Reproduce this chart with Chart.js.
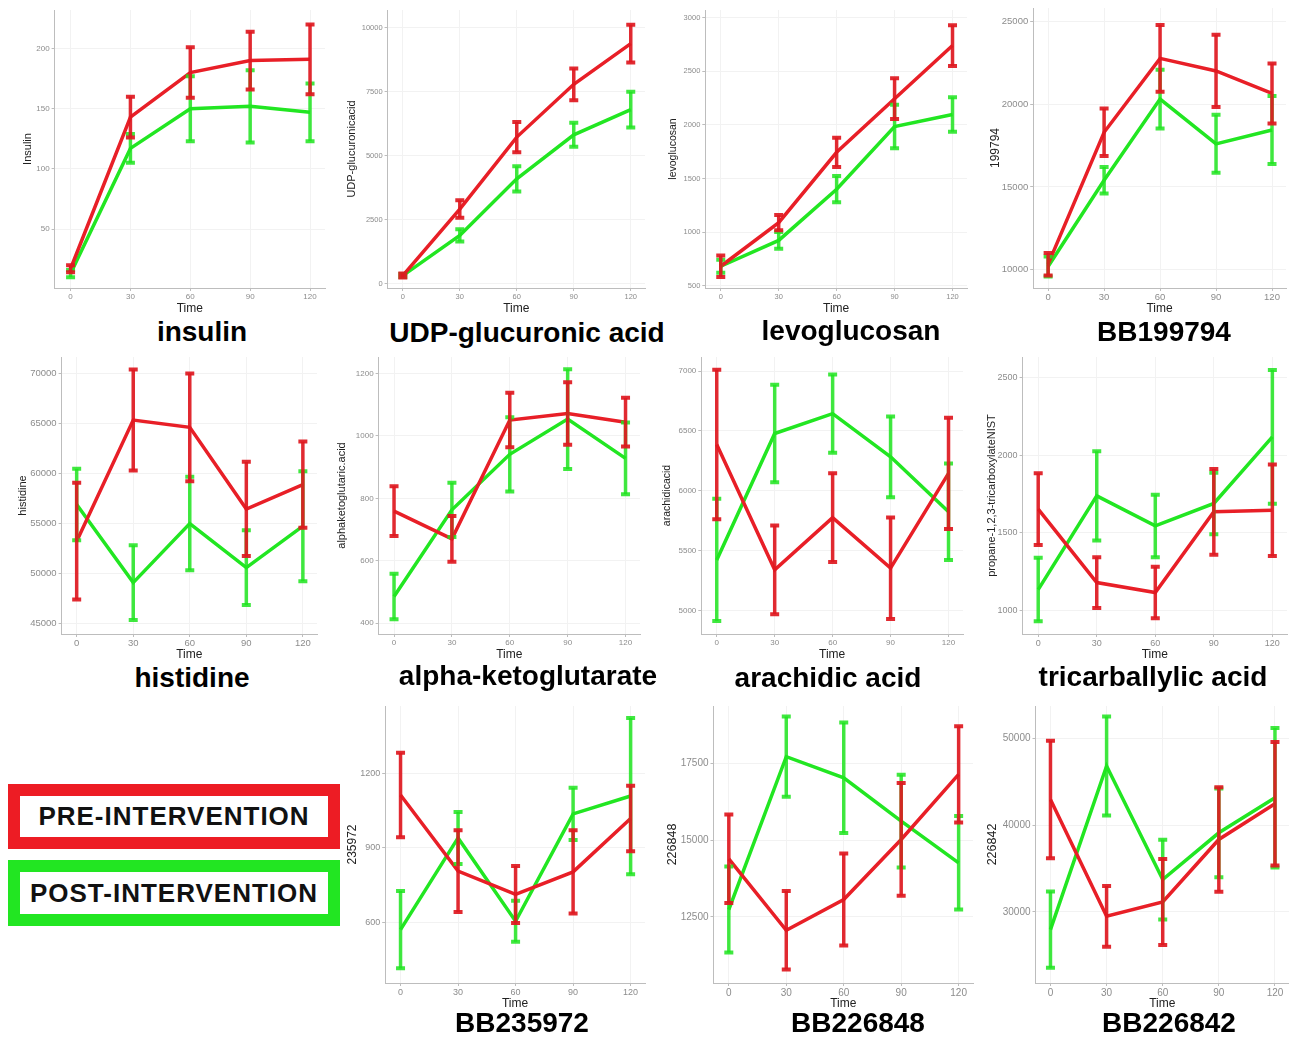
<!DOCTYPE html>
<html>
<head>
<meta charset="utf-8">
<script src="https://cdn.jsdelivr.net/npm/chart.js@4.4.1/dist/chart.umd.min.js"></script>
<style>
    html, body { margin: 0; padding: 0; background: #fff; overflow: hidden; }
    body { width: 1289px; height: 1037px; position: relative; font-family: "Liberation Sans", Arial, sans-serif; }
    .panel { position: absolute; }
    .name { position: absolute; font-weight: bold; font-size: 28px; line-height: 1; color: #000; transform: translateX(-50%); white-space: nowrap; }
    .legend-box { position: absolute; box-sizing: border-box; background: #fff; border: 12px solid; display: flex; align-items: center; justify-content: center; font-weight: bold; font-size: 26px; letter-spacing: 1px; color: #111; }
</style>
</head>
<body>
<div class="legend-box" style="left:8px;top:784px;width:332px;height:65px;border-color:#ed1c24;">PRE-INTERVENTION</div>
<div class="legend-box" style="left:8px;top:860px;width:332px;height:66px;border-color:#22e622;">POST-INTERVENTION</div>
<script>
const times = [0, 30, 60, 90, 120];

const insulinPre = [17, 143, 180, 190, 191];
const insulinPreErr = [3, 17, 21, 24, 29];
const insulinPost = [13, 117, 150, 152, 147];
const insulinPostErr = [3, 12, 27, 30, 24];
const insulinTicks = [50, 100, 150, 200];

const udpPre = [325, 2920, 5730, 7790, 9380];
const udpPreErr = [80, 340, 590, 620, 735];
const udpPost = [325, 1890, 4100, 5820, 6800];
const udpPostErr = [60, 240, 490, 470, 700];
const udpTicks = [0, 2500, 5000, 7500, 10000];

const levoPre = [681, 1088, 1744, 2244, 2740];
const levoPreErr = [100, 70, 137, 190, 190];
const levoPost = [681, 922, 1400, 1984, 2097];
const levoPostErr = [60, 78, 122, 203, 160];
const levoTicks = [500, 1000, 1500, 2000, 2500, 3000];

const bb199794Pre = [10340, 18300, 22760, 22000, 20640];
const bb199794PreErr = [680, 1430, 2020, 2180, 1810];
const bb199794Post = [10200, 15400, 20300, 17600, 18440];
const bb199794PostErr = [600, 800, 1770, 1750, 2050];
const bb199794Ticks = [10000, 15000, 20000, 25000];

const histidinePre = [53230, 65350, 64620, 56450, 58880];
const histidinePreErr = [5840, 5050, 5400, 4715, 4315];
const histidinePost = [56890, 49080, 54990, 50580, 54730];
const histidinePostErr = [3580, 3730, 4680, 3750, 5500];
const histidineTicks = [45000, 50000, 55000, 60000, 65000, 70000];

const akgPre = [759, 670, 1051, 1072, 1044];
const akgPreErr = [80, 73, 87, 100, 78];
const akgPost = [485, 763, 941, 1054, 928];
const akgPostErr = [73, 87, 119, 160, 115];
const akgTicks = [400, 600, 800, 1000, 1200];

const arachidicPre = [6386, 5339, 5775, 5353, 6145];
const arachidicPreErr = [625, 370, 370, 424, 465];
const arachidicPost = [5422, 6478, 6644, 6283, 5825];
const arachidicPostErr = [510, 407, 326, 337, 403];
const arachidicTicks = [5000, 5500, 6000, 6500, 7000];

const tricarbPre = [1652, 1178, 1114, 1635, 1645];
const tricarbPreErr = [232, 164, 167, 277, 296];
const tricarbPost = [1133, 1738, 1544, 1689, 2119];
const tricarbPostErr = [205, 288, 202, 198, 432];
const tricarbTicks = [1000, 1500, 2000, 2500];

const bb235972Pre = [1113, 806, 712, 803, 1018];
const bb235972PreErr = [170, 165, 115, 168, 132];
const bb235972Post = [570, 940, 604, 1037, 1109];
const bb235972PostErr = [156, 105, 83, 105, 315];
const bb235972Ticks = [600, 900, 1200];

const bb226848Pre = [14396, 12064, 13067, 15027, 17151];
const bb226848PreErr = [1444, 1280, 1500, 1840, 1570];
const bb226848Post = [12740, 17729, 17042, 15626, 14265];
const bb226848PostErr = [1405, 1310, 1800, 1515, 1525];
const bb226848Ticks = [12500, 15000, 17500];

const bb226842Pre = [42960, 29500, 31150, 38350, 42460];
const bb226842PreErr = [6770, 3500, 4960, 6020, 7115];
const bb226842Post = [27960, 46810, 33730, 39120, 43150];
const bb226842PostErr = [4400, 5710, 4600, 5115, 8040];
const bb226842Ticks = [30000, 40000, 50000];

const panels = [
    { name: 'insulin', yTitle: 'Insulin', pre: insulinPre, preErr: insulinPreErr, post: insulinPost, postErr: insulinPostErr, ticks: insulinTicks },
    { name: 'UDP-glucuronic acid', yTitle: 'UDP-glucuronicacid', pre: udpPre, preErr: udpPreErr, post: udpPost, postErr: udpPostErr, ticks: udpTicks },
    { name: 'levoglucosan', yTitle: 'levoglucosan', pre: levoPre, preErr: levoPreErr, post: levoPost, postErr: levoPostErr, ticks: levoTicks },
    { name: 'BB199794', yTitle: '199794', pre: bb199794Pre, preErr: bb199794PreErr, post: bb199794Post, postErr: bb199794PostErr, ticks: bb199794Ticks },
    { name: 'histidine', yTitle: 'histidine', pre: histidinePre, preErr: histidinePreErr, post: histidinePost, postErr: histidinePostErr, ticks: histidineTicks },
    { name: 'alpha-ketoglutarate', yTitle: 'alphaketoglutaric.acid', pre: akgPre, preErr: akgPreErr, post: akgPost, postErr: akgPostErr, ticks: akgTicks },
    { name: 'arachidic acid', yTitle: 'arachidicacid', pre: arachidicPre, preErr: arachidicPreErr, post: arachidicPost, postErr: arachidicPostErr, ticks: arachidicTicks },
    { name: 'tricarballylic acid', yTitle: 'propane-1,2,3-tricarboxylateNIST', pre: tricarbPre, preErr: tricarbPreErr, post: tricarbPost, postErr: tricarbPostErr, ticks: tricarbTicks },
    { name: 'BB235972', yTitle: '235972', pre: bb235972Pre, preErr: bb235972PreErr, post: bb235972Post, postErr: bb235972PostErr, ticks: bb235972Ticks },
    { name: 'BB226848', yTitle: '226848', pre: bb226848Pre, preErr: bb226848PreErr, post: bb226848Post, postErr: bb226848PostErr, ticks: bb226848Ticks },
    { name: 'BB226842', yTitle: '226842', pre: bb226842Pre, preErr: bb226842PreErr, post: bb226842Post, postErr: bb226842PostErr, ticks: bb226842Ticks },
];

// plot-area boxes on the page, axis ranges and font sizes, one per panel
const layout = [
    { left: 55, top: 10, right: 325, bottom: 288, titleX: 28, fs: 8, tfs: 11, yMin: 1, yMax: 232, nameX: 202, nameY: 318 },
    { left: 388, top: 10, right: 645, bottom: 288, titleX: 352, fs: 7.5, tfs: 11, yMin: -160, yMax: 10690, nameX: 527, nameY: 319 },
    { left: 705, top: 10, right: 967, bottom: 288, titleX: 673, fs: 7.5, tfs: 10.5, yMin: 478, yMax: 3072, nameX: 851, nameY: 317 },
    { left: 1033, top: 8, right: 1286, bottom: 288, titleX: 995, fs: 9.5, tfs: 12, yMin: 8900, yMax: 25800, nameX: 1164, nameY: 318 },
    { left: 62, top: 357, right: 317, bottom: 634, titleX: 23, fs: 9.5, tfs: 11, yMin: 43940, yMax: 71660, nameX: 192, nameY: 664 },
    { left: 379, top: 357, right: 640, bottom: 634, titleX: 342, fs: 8, tfs: 11, yMin: 365, yMax: 1253, nameX: 528, nameY: 662 },
    { left: 701, top: 357, right: 963, bottom: 634, titleX: 667, fs: 8, tfs: 10.5, yMin: 4803, yMax: 7117, nameX: 828, nameY: 664 },
    { left: 1023, top: 357, right: 1287, bottom: 634, titleX: 992, fs: 9, tfs: 11, yMin: 846, yMax: 2635, nameX: 1153, nameY: 663 },
    { left: 385, top: 706, right: 645, bottom: 983, titleX: 352, fs: 9, tfs: 12, yMin: 355, yMax: 1472, nameX: 522, nameY: 1009 },
    { left: 713, top: 706, right: 972, bottom: 983, titleX: 672, fs: 10, tfs: 12.5, yMin: 10341, yMax: 19384, nameX: 858, nameY: 1009 },
    { left: 1035, top: 706, right: 1288, bottom: 983, titleX: 992, fs: 10, tfs: 12.5, yMin: 21810, yMax: 53730, nameX: 1169, nameY: 1009 },
];

const RED = '#e81f27';
const GREEN = '#22e622';
const AXIS_GREY = '#bdbdbd';
const PAD_TOP = 8;
const PAD_RIGHT = 10;
const X_AXIS_H = 28;

Chart.defaults.font.family = '"Liberation Sans", Arial, sans-serif';

const errorBars = {
    id: 'errorBars',
    afterDatasetsDraw(chart) {
        const { ctx, scales: { x, y } } = chart;
        const sets = chart.data.datasets;
        for (let d = sets.length - 1; d >= 0; d--) {
            const ds = sets[d];
            ctx.save();
            ctx.strokeStyle = ds.errColor;
            ctx.lineCap = 'butt';
            ds.data.forEach((pt, i) => {
                const px = x.getPixelForValue(pt.x);
                const top = y.getPixelForValue(pt.y + ds.err[i]);
                const bottom = y.getPixelForValue(pt.y - ds.err[i]);
                ctx.lineWidth = 3.5;
                ctx.beginPath();
                ctx.moveTo(px, top);
                ctx.lineTo(px, bottom);
                ctx.stroke();
                ctx.lineWidth = 4;
                ctx.beginPath();
                ctx.moveTo(px - 4.5, top);
                ctx.lineTo(px + 4.5, top);
                ctx.moveTo(px - 4.5, bottom);
                ctx.lineTo(px + 4.5, bottom);
                ctx.stroke();
            });
            ctx.restore();
        }
    },
};

const renderPanel = (panel, box) => {
    const titleLine = box.tfs * 1.2;
    const canvasLeft = box.titleX - titleLine / 2;
    const yAxisW = box.left - canvasLeft;
    const width = Math.round(box.right - canvasLeft + PAD_RIGHT);
    const height = Math.round(box.bottom - box.top + PAD_TOP + X_AXIS_H);

    const holder = document.createElement('div');
    holder.className = 'panel';
    holder.style.left = `${canvasLeft}px`;
    holder.style.top = `${box.top - PAD_TOP}px`;

    const canvas = document.createElement('canvas');
    canvas.width = width;
    canvas.height = height;
    holder.append(canvas);
    document.body.append(holder);

    const label = document.createElement('div');
    label.className = 'name';
    label.style.left = `${box.nameX}px`;
    label.style.top = `${box.nameY}px`;
    label.textContent = panel.name;
    document.body.append(label);

    const toPoints = (values) => values.map((v, i) => ({ x: times[i], y: v }));

    new Chart(canvas, {
        type: 'line',
        data: {
            datasets: [
                {
                    label: 'PRE-INTERVENTION',
                    data: toPoints(panel.pre),
                    err: panel.preErr,
                    errColor: 'rgba(222, 24, 32, 0.92)',
                    borderColor: RED,
                    borderWidth: 3.5,
                    pointRadius: 0,
                    tension: 0,
                },
                {
                    label: 'POST-INTERVENTION',
                    data: toPoints(panel.post),
                    err: panel.postErr,
                    errColor: 'rgba(30, 228, 30, 0.85)',
                    borderColor: GREEN,
                    borderWidth: 3.5,
                    pointRadius: 0,
                    tension: 0,
                },
            ],
        },
        options: {
            responsive: false,
            animation: false,
            devicePixelRatio: 1,
            layout: { padding: { top: PAD_TOP, right: PAD_RIGHT, left: 0, bottom: 0 } },
            plugins: { legend: { display: false }, tooltip: { enabled: false } },
            scales: {
                x: {
                    type: 'linear',
                    min: -8,
                    max: 127.5,
                    afterBuildTicks: (scale) => {
                        scale.ticks = times.map((v) => ({ value: v }));
                    },
                    afterFit: (scale) => {
                        scale.height = X_AXIS_H;
                    },
                    grid: { color: '#f2f2f2', tickColor: AXIS_GREY, tickLength: 3 },
                    border: { color: AXIS_GREY, width: 1 },
                    ticks: {
                        color: '#8c8c8c',
                        font: { size: box.fs },
                        padding: 1,
                        maxRotation: 0,
                        callback: (v) => String(v),
                    },
                    title: { display: true, text: 'Time', color: '#222', font: { size: 12 }, padding: 0 },
                },
                y: {
                    min: box.yMin,
                    max: box.yMax,
                    afterBuildTicks: (scale) => {
                        scale.ticks = panel.ticks.map((v) => ({ value: v }));
                    },
                    afterFit: (scale) => {
                        scale.width = yAxisW;
                    },
                    grid: { color: '#f2f2f2', tickColor: AXIS_GREY, tickLength: 3 },
                    border: { color: AXIS_GREY, width: 1 },
                    ticks: {
                        color: '#8c8c8c',
                        font: { size: box.fs },
                        padding: 2,
                        callback: (v) => String(v),
                    },
                    title: { display: true, text: panel.yTitle, color: '#222', font: { size: box.tfs }, padding: 0 },
                },
            },
        },
        plugins: [errorBars],
    });
};

panels.forEach((panel, i) => renderPanel(panel, layout[i]));
</script>
</body>
</html>
